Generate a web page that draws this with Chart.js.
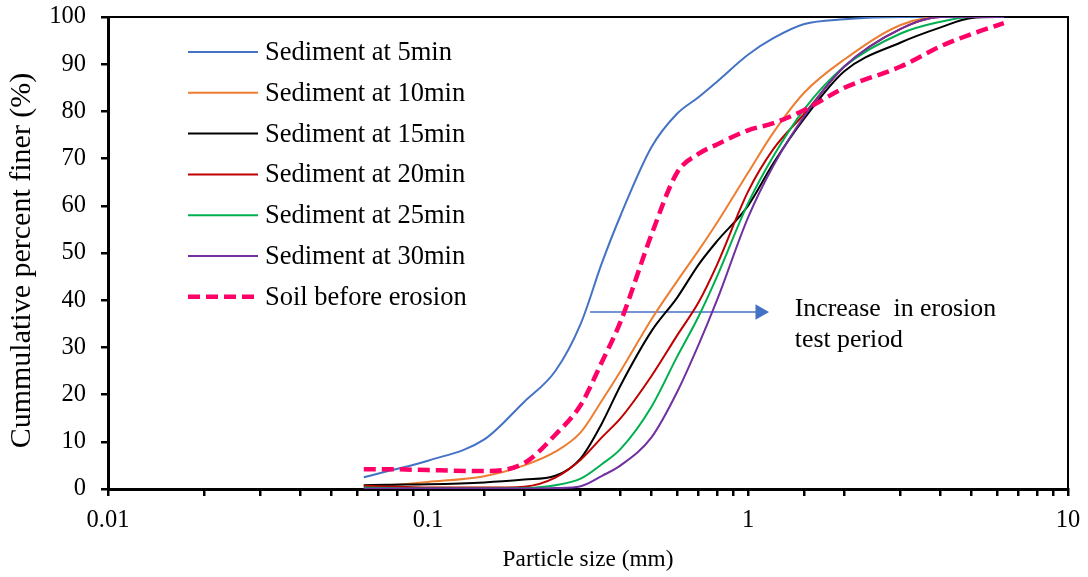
<!DOCTYPE html>
<html>
<head>
<meta charset="utf-8">
<script src="https://cdn.jsdelivr.net/npm/chart.js@4.4.1/dist/chart.umd.min.js"></script>
<style>
  html, body { margin: 0; padding: 0; background: #fff; }
</style>
</head>
<body>
<canvas id="myChart" width="1088" height="577"></canvas>
<script>
// particle sizes (mm) where the curves were read
const sizes  = [0.063, 0.075, 0.1, 0.15, 0.2, 0.25, 0.3, 0.35, 0.4, 0.5, 0.6, 0.7, 0.8, 1, 1.2, 1.5, 2, 3, 4, 5, 6.3];

// cumulative percent finer (%)
const sed5   = [2.5, 3.8, 6, 10.5, 18.5, 25, 35, 48, 58, 72.5, 79.5, 83, 86.3, 92, 95.5, 98.5, 99.5, 100, 100, 100, 100];
const sed10  = [0.5, 0.8, 1.5, 2.7, 5, 7.9, 12, 18.8, 25, 36, 44, 50.5, 56.4, 67, 75.5, 84, 91, 98.3, 100, 100, 100];
const sed15  = [0.8, 0.9, 1.0, 1.4, 2.0, 2.8, 6.5, 14, 22, 33.5, 40.5, 47.5, 52.5, 60, 69, 78.5, 88.5, 94.6, 97.8, 99.8, 100];
const sed20  = [0.7, 0.5, 0.3, 0.3, 0.5, 2.4, 6.2, 11, 15, 24, 32.5, 39.5, 47.5, 63, 72, 79.5, 89.5, 97.5, 100, 100, 100];
const sed25  = [0.3, 0.2, 0.1, 0.1, 0.2, 0.8, 2.2, 5.3, 8.5, 17.5, 28, 36.5, 45, 60.5, 70.5, 80.5, 89.5, 96.5, 99, 100, 100];
const sed30  = [0.1, 0.1, 0.1, 0.1, 0.1, 0.2, 0.6, 2.8, 5, 11, 20.5, 30.5, 40, 57.5, 68.5, 79, 89.5, 97.5, 100, 100, 100];
const soil   = [4.2, 4.2, 4.0, 3.8, 5.5, 11.5, 17.8, 27, 35.5, 54, 67, 71, 73, 76, 77.5, 80.3, 85, 89.5, 93.8, 96.4, 98.7];

const labels = ['Sediment at 5min', 'Sediment at 10min', 'Sediment at 15min', 'Sediment at 20min',
                'Sediment at 25min', 'Sediment at 30min', 'Soil before erosion'];

// arrow "increase in erosion test period"
const arrowX = [0.321, 1.09];
const arrowY = [37.5, 37.5];
const noteLines = ['Increase  in erosion', 'test period'];

const serif = "'Liberation Serif', 'Times New Roman', serif";
Chart.defaults.font.family = serif;
Chart.defaults.color = '#000';

function pts(ys) {
  return sizes.map((x, i) => ({ x: x, y: ys[i] }));
}

function series(i, ys, color, width, dash) {
  return {
    label: labels[i],
    data: pts(ys),
    borderColor: color,
    backgroundColor: color,
    borderWidth: width,
    borderDash: dash || [],
    pointRadius: 0,
    cubicInterpolationMode: 'monotone',
    fill: false,
    order: -i,
    inLegend: true
  };
}

const legendPlugin = {
  id: 'insideLegend',
  afterDraw(chart) {
    const ctx = chart.ctx;
    const area = chart.chartArea;
    const x0 = area.left + 80, y0 = area.top + 35, step = 40.8;
    ctx.save();
    ctx.font = '26.5px ' + serif;
    ctx.textBaseline = 'middle';
    ctx.fillStyle = '#000';
    chart.data.datasets.filter(d => d.inLegend).forEach((d, i) => {
      const y = y0 + i * step;
      ctx.beginPath();
      ctx.strokeStyle = d.borderColor;
      ctx.lineWidth = d.borderWidth;
      ctx.setLineDash(d.borderDash);
      ctx.moveTo(x0, y);
      ctx.lineTo(x0 + 70, y);
      ctx.stroke();
      ctx.setLineDash([]);
      ctx.fillText(d.label, x0 + 77, y + 1);
    });
    ctx.restore();
  }
};

const framePlugin = {
  id: 'frame',
  beforeDatasetsDraw(chart) {
    const ctx = chart.ctx;
    const a = chart.chartArea;
    ctx.save();
    ctx.strokeStyle = '#000';
    ctx.lineWidth = 2;
    ctx.beginPath();
    ctx.moveTo(a.left, a.top);
    ctx.lineTo(a.right, a.top);
    ctx.lineTo(a.right, a.bottom);
    ctx.stroke();
    ctx.restore();
  }
};

const notePlugin = {
  id: 'note',
  afterDraw(chart) {
    const ctx = chart.ctx;
    const xs = chart.scales.x, ys = chart.scales.y;
    const x = xs.getPixelForValue(1.4);
    const y = ys.getPixelForValue(arrowY[0]) - 3;
    ctx.save();
    ctx.font = '25.8px ' + serif;
    ctx.textBaseline = 'middle';
    ctx.fillStyle = '#000';
    noteLines.forEach((t, i) => ctx.fillText(t, x, y + i * 31));
    ctx.restore();
  }
};

const ctx = document.getElementById('myChart').getContext('2d');
const myChart = new Chart(ctx, {
  type: 'line',
  data: {
    datasets: [
      series(0, sed5, '#4472C4', 2),
      series(1, sed10, '#ED7D31', 2),
      series(2, sed15, '#000000', 2),
      series(3, sed20, '#C00000', 2),
      series(4, sed25, '#00B050', 2),
      series(5, sed30, '#7030A0', 2),
      series(6, soil, '#FF0066', 4.5, [12, 6]),
      {
        label: '',
        data: arrowX.map((x, i) => ({ x: x, y: arrowY[i] })),
        borderColor: '#4472C4',
        backgroundColor: '#4472C4',
        borderWidth: 1.5,
        pointRadius: [0, 7.5],
        pointStyle: 'triangle',
        rotation: 90,
        order: 10
      }
    ]
  },
  options: {
    responsive: false,
    animation: false,
    devicePixelRatio: 1,
    layout: { padding: 0 },
    plugins: {
      legend: { display: false },
      tooltip: { enabled: false }
    },
    scales: {
      x: {
        type: 'logarithmic',
        min: 0.01,
        max: 10,
        grid: { drawOnChartArea: false, drawTicks: true, tickLength: 7, color: '#000', lineWidth: 2.5 },
        border: { display: true, color: '#000', width: 3 },
        ticks: {
          autoSkip: false,
          maxRotation: 0,
          padding: 10,
          font: { size: 24.5 },
          color: '#000',
          callback: v => {
            const l = Math.log10(v);
            return Math.abs(l - Math.round(l)) < 1e-9 ? String(v) : '';
          }
        },
        title: { display: true, text: 'Particle size (mm)', font: { size: 23.3 }, color: '#000', padding: { top: 0, bottom: 3 } },
        afterFit: s => { s.height = 88; s.paddingRight = 20; s.paddingLeft = 0; }
      },
      y: {
        min: 0,
        max: 100,
        grid: { drawOnChartArea: false, drawTicks: true, tickLength: 7, color: '#000', lineWidth: 2.5 },
        border: { display: true, color: '#000', width: 3 },
        ticks: {
          stepSize: 5,
          padding: 15,
          font: { size: 24.5 },
          color: '#000',
          callback: v => (v % 10 === 0 ? v : '')
        },
        title: { display: true, text: 'Cummulative percent finer (%)  ', font: { size: 30 }, color: '#000', padding: { top: 4, bottom: 0 } },
        afterFit: s => { s.width = 108; s.paddingTop = 17; s.paddingBottom = 0; }
      }
    }
  },
  plugins: [framePlugin, legendPlugin, notePlugin]
});
</script>
</body>
</html>
